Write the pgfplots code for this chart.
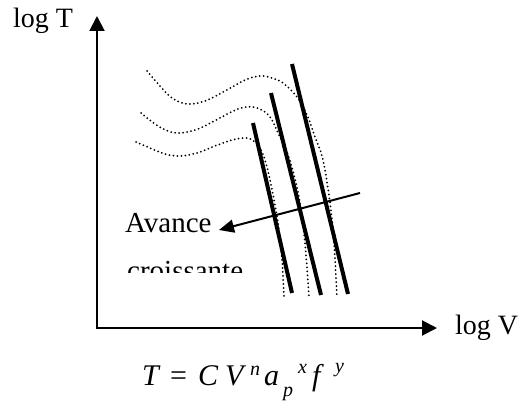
\documentclass[border=0pt]{standalone}
\usepackage{fontspec}
\setmainfont{Liberation Serif}
\usepackage{pgfplots}
\pgfplotsset{compat=1.18}
\usetikzlibrary{arrows.meta}

\tikzset{
  big/.style={font=\fontsize{28bp}{32bp}\selectfont, inner sep=0pt},
  bigger/.style={font=\fontsize{29bp}{33bp}\selectfont, inner sep=0pt},
  eq/.style={font=\fontsize{30bp}{34bp}\selectfont\itshape, inner sep=0pt, anchor=base west},
  sup/.style={font=\fontsize{20bp}{22bp}\selectfont\itshape, inner sep=0pt, anchor=base west},
  curve/.style={black, line width=2bp, line cap=round, dash pattern=on 0bp off 4bp, smooth, tension=0.6},
  tool/.style={black, line width=4bp},
}

\begin{document}
\begin{tikzpicture}
\begin{axis}[
  width=522bp, height=401bp, scale only axis,
  xmin=0, xmax=522, ymin=0, ymax=401, y dir=reverse,
  hide axis, clip=false,
]
% page extent
\path (axis cs:0,0) (axis cs:522,401);

% axes
\addplot[black, line width=2bp, -{Triangle[length=15bp,width=15bp]}] coordinates {(97,329) (97,16)};
\addplot[black, line width=2bp, -{Triangle[length=15bp,width=15bp]}] coordinates {(96,328) (437,328)};

% tool-life curves (dotted)
\addplot[curve] coordinates {(147,71) (160,86) (172,98) (187,104) (205,101) (225,91) (245,80) (260,76) (272,78) (283,83) (297,97) (307,115) (315,137) (323,160) (330,203) (334,243) (337,298)};
\addplot[curve] coordinates {(141,113) (155,124) (168,131) (180,133) (198,129) (218,119) (238,109) (253,107) (265,112) (272,120) (278,133) (287,152) (294,175) (300,203) (305,243) (309,297)};
\addplot[curve] coordinates {(136,142) (150,148) (165,154) (180,156) (197,153) (215,146) (232,140) (247,138) (255,142) (260,148) (265,160) (270,180) (275,205) (279,230) (282,260) (284,297)};

% Taylor lines
\addplot[tool] coordinates {(253,123) (292,293)};
\addplot[tool] coordinates {(271,93) (321,295)};
\addplot[tool] coordinates {(292,64) (348,294)};

% feed direction
\addplot[black, line width=2bp, -{Triangle[length=15bp,width=13bp]}] coordinates {(360,193) (219,230)};

% labels
\node[big, anchor=base west] at (axis cs:13,28) {log T};
\node[big, anchor=base west] at (axis cs:455,334) {log V};
\node[bigger, anchor=base west] at (axis cs:125,232) {Avance};
\begin{scope}
  \clip (axis cs:100,250) rectangle (axis cs:300,272);
  \node[bigger, anchor=base west] at (axis cs:127,280) {croissante};
\end{scope}

% Taylor equation
\node[eq] at (axis cs:142,385) {T};
\node[eq, font=\fontsize{30bp}{34bp}\selectfont] at (axis cs:170,385) {=};
\node[eq] at (axis cs:198,385) {C};
\node[eq] at (axis cs:225,385) {V};
\node[sup] at (axis cs:250,375) {n};
\node[eq] at (axis cs:264,385) {a};
\node[sup] at (axis cs:283,396) {p};
\node[sup] at (axis cs:298,373) {x};
\node[eq] at (axis cs:312,385) {f};
\node[sup] at (axis cs:335,372) {y};
\end{axis}
\end{tikzpicture}
\end{document}
